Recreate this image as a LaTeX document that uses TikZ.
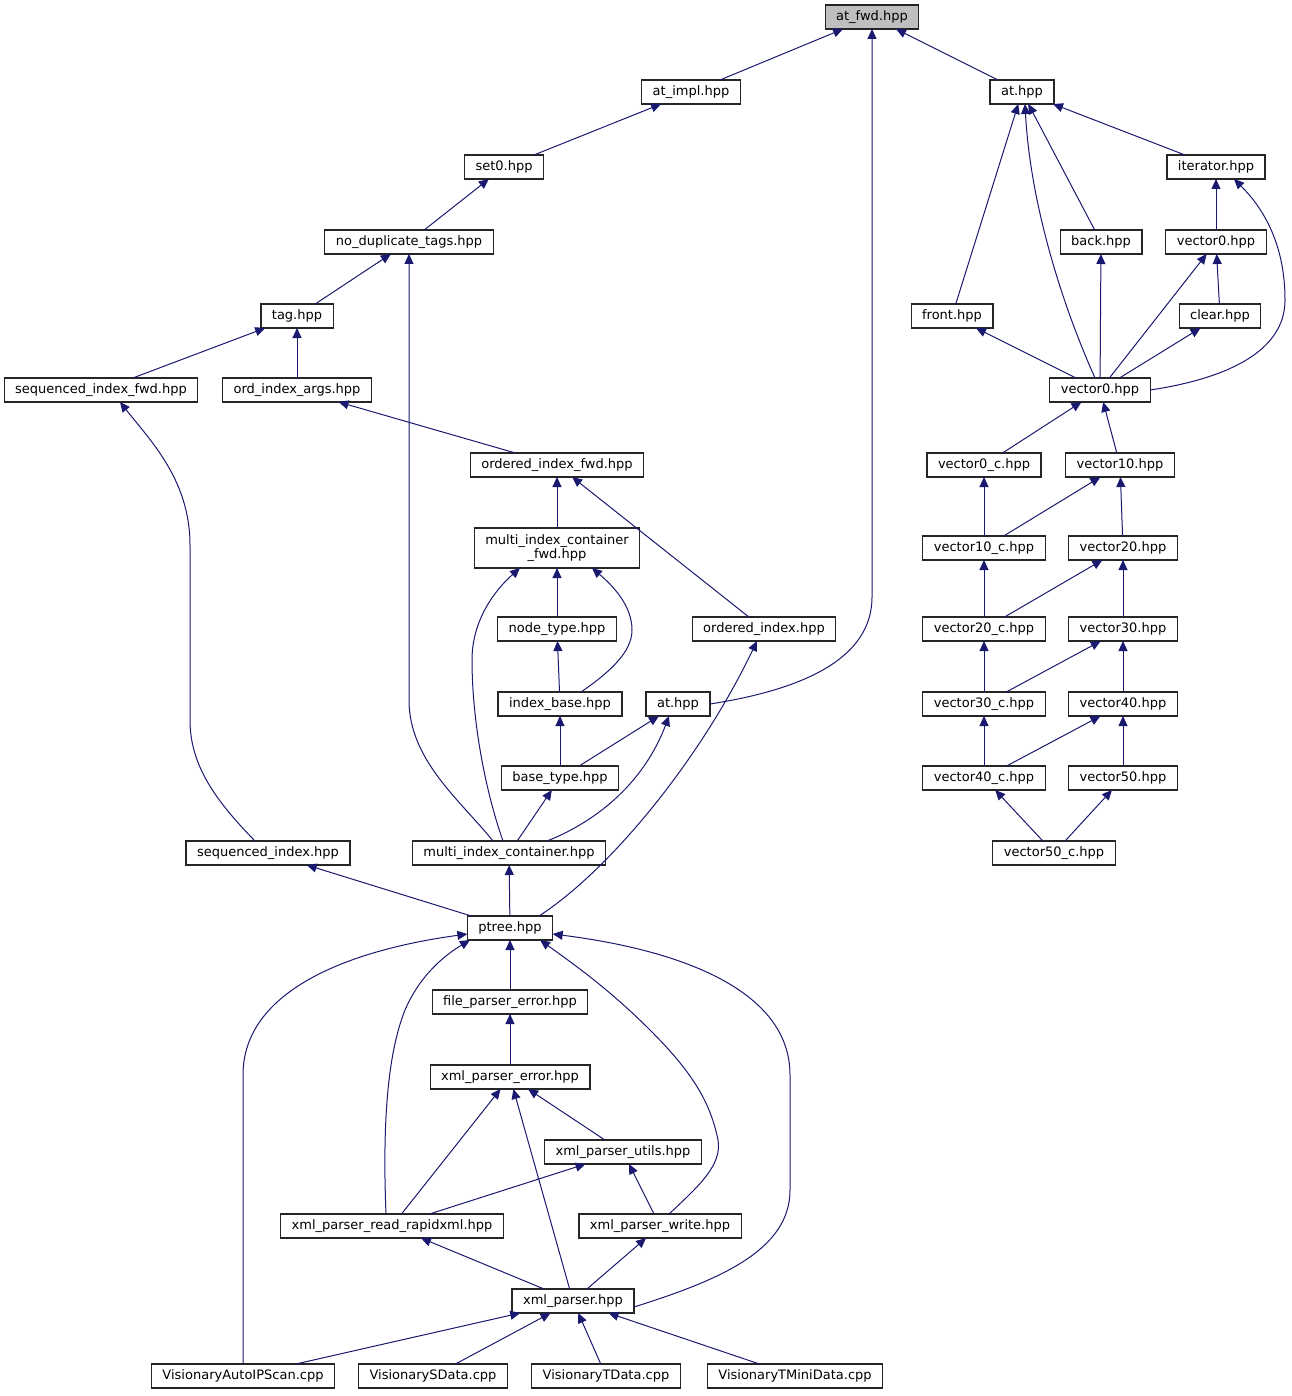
\documentclass[tikz,border=0pt]{standalone}
\usepackage{fontspec}
\setmainfont{DejaVu Sans}
\usetikzlibrary{arrows.meta,shapes}

\definecolor{edgeblue}{HTML}{191970}

\tikzset{
   file/.style={draw=black!85, line width=1.2pt, fill=white, inner xsep=11pt,
      inner ysep=0pt, minimum height=24pt, outer sep=0pt,
      font=\fontsize{13}{14}\selectfont, align=center},
   root/.style={file, fill=black!25},
   edge/.style={draw=edgeblue, line width=1pt, -{Triangle[length=10pt,width=9pt]}}
}

\begin{document}
\begin{tikzpicture}[x=1pt,y=-1pt]

   \useasboundingbox (0,0) rectangle (1291,1396);

   \node[root] (atfwd) at (872,17) {at\_fwd.hpp};

   \node[file] (atimpl) at (691,92) {at\_impl.hpp};
   \node[file] (attop) at (1022,92) {at.hpp};
   \node[file] (setzero) at (504,167) {set0.hpp};
   \node[file] (iterator) at (1216,167) {iterator.hpp};
   \node[file] (nodup) at (409,242) {no\_duplicate\_tags.hpp};
   \node[file] (back) at (1101,242) {back.hpp};
   \node[file] (vzeroup) at (1216,242) {vector0.hpp};
   \node[file] (tag) at (297,316) {tag.hpp};
   \node[file] (front) at (952,316) {front.hpp};
   \node[file] (clear) at (1220,316) {clear.hpp};
   \node[file] (seqfwd) at (101,390) {sequenced\_index\_fwd.hpp};
   \node[file] (ordargs) at (297,390) {ord\_index\_args.hpp};
   \node[file] (vzero) at (1100,390) {vector0.hpp};
   \node[file] (ordfwd) at (557,465) {ordered\_index\_fwd.hpp};
   \node[file, minimum height=40pt] (micfwd) at (557,548) {multi\_index\_container\\\_fwd.hpp};
   \node[file] (nodetype) at (557,629) {node\_type.hpp};
   \node[file] (ordidx) at (764,629) {ordered\_index.hpp};
   \node[file] (idxbase) at (560,704) {index\_base.hpp};
   \node[file] (atmid) at (678,704) {at.hpp};
   \node[file] (basetype) at (560,778) {base\_type.hpp};
   \node[file] (seqidx) at (268,853) {sequenced\_index.hpp};
   \node[file] (mic) at (509,853) {multi\_index\_container.hpp};

   \node[file] (v0c) at (984,465) {vector0\_c.hpp};
   \node[file] (v10) at (1120,465) {vector10.hpp};
   \foreach \i/\y in {10/548,20/629,30/704,40/778}
   {
      \node[file] (v\i c) at (984,\y) {vector\i\_c.hpp};
   }
   \foreach \i/\y in {20/548,30/629,40/704,50/778}
   {
      \node[file] (v\i) at (1123,\y) {vector\i.hpp};
   }
   \node[file] (v50c) at (1054,853) {vector50\_c.hpp};

   \node[file] (ptree) at (510,928) {ptree.hpp};
   \node[file] (fpe) at (510,1002) {file\_parser\_error.hpp};
   \node[file] (xpe) at (510,1077) {xml\_parser\_error.hpp};
   \node[file] (xpu) at (623,1152) {xml\_parser\_utils.hpp};
   \node[file] (xprr) at (392,1226) {xml\_parser\_read\_rapidxml.hpp};
   \node[file] (xpw) at (660,1226) {xml\_parser\_write.hpp};
   \node[file] (xp) at (573,1301) {xml\_parser.hpp};
   \node[file] (vaips) at (243,1376) {VisionaryAutoIPScan.cpp};
   \node[file] (vsdata) at (433,1376) {VisionarySData.cpp};
   \node[file] (vtdata) at (606,1376) {VisionaryTData.cpp};
   \node[file] (vtmini) at (795,1376) {VisionaryTMiniData.cpp};

   \foreach \a/\b in {atimpl/atfwd, attop/atfwd, setzero/atimpl, nodup/setzero,
      tag/nodup, seqfwd/tag, ordargs/tag, ordfwd/ordargs, micfwd/ordfwd,
      ordidx/ordfwd, nodetype/micfwd, idxbase/nodetype, basetype/idxbase,
      basetype/atmid, mic/basetype, ptree/seqidx, ptree/mic, fpe/ptree,
      xpe/fpe, xpu/xpe, xprr/xpe, xp/xpe, xprr/xpu, xpw/xpu, xp/xprr, xp/xpw,
      vaips/xp, vsdata/xp, vtdata/xp, vtmini/xp,
      iterator/attop, back/attop, front/attop, vzeroup/iterator,
      clear/vzeroup, vzero/vzeroup, vzero/front, vzero/back, vzero/clear,
      v0c/vzero, v10/vzero, v10c/v0c, v10c/v10, v20/v10, v20c/v10c,
      v20c/v20, v30/v20, v30c/v20c, v30c/v30, v40/v30, v40c/v30c,
      v40c/v40, v50/v40, v50c/v40c, v50c/v50}
   {
      \draw[edge] (\a) -- (\b);
   }

   \draw[edge] (atmid.east) .. controls (800,690) and (872,660) .. (872,597)
      -- (atfwd.south);
   \draw[edge] ([xshift=-16]mic.north) .. controls (460,800) and (409,760)
      .. (409,700) -- (nodup.south);
   \draw[edge] ([xshift=-6]mic.north) .. controls (485,790) and (472,720)
      .. (472,660) .. controls (472,620) and (495,590) .. ([xshift=-37]micfwd.south);
   \draw[edge] ([xshift=21]idxbase.north) .. controls (610,672) and (632,652)
      .. (632,630) .. controls (632,605) and (612,585) .. ([xshift=35]micfwd.south);
   \draw[edge] ([xshift=38]mic.north) .. controls (600,820) and (645,780)
      .. ([xshift=-9]atmid.south);
   \draw[edge] ([xshift=29]ptree.north) .. controls (610,870) and (700,760)
      .. ([xshift=-7]ordidx.south);
   \draw[edge] ([xshift=-13]seqidx.north) .. controls (215,800) and (190,765)
      .. (190,720) -- (190,545) .. controls (190,480) and (150,440)
      .. ([xshift=19]seqfwd.south);

   \draw[edge] (vaips.north) -- (243,1075) .. controls (243,990) and (350,950)
      .. ([yshift=-6]ptree.west);
   \draw[edge] ([xshift=-6]xprr.north) .. controls (383,1140) and (385,1060)
      .. (405,1010) .. controls (420,975) and (445,955) .. ([xshift=-40]ptree.south);
   \draw[edge] ([xshift=9]xpw.north) .. controls (700,1185) and (722,1165)
      .. (718,1140) .. controls (710,1100) and (690,1070) .. (650,1030)
      .. controls (610,990) and (575,965) .. ([xshift=30]ptree.south);
   \draw[edge] ([yshift=-6]xp.east) .. controls (720,1280) and (790,1250)
      .. (790,1190) -- (790,1075) .. controls (790,990) and (680,950)
      .. ([yshift=-6]ptree.east);

   \draw[edge] ([xshift=-5]vzero.north) .. controls (1060,300) and (1030,200)
      .. ([xshift=3]attop.south);
   \draw[edge] (vzero.east) .. controls (1230,378) and (1285,350) .. (1285,300)
      .. controls (1285,240) and (1260,205) .. ([xshift=18]iterator.south);

\end{tikzpicture}
\end{document}
